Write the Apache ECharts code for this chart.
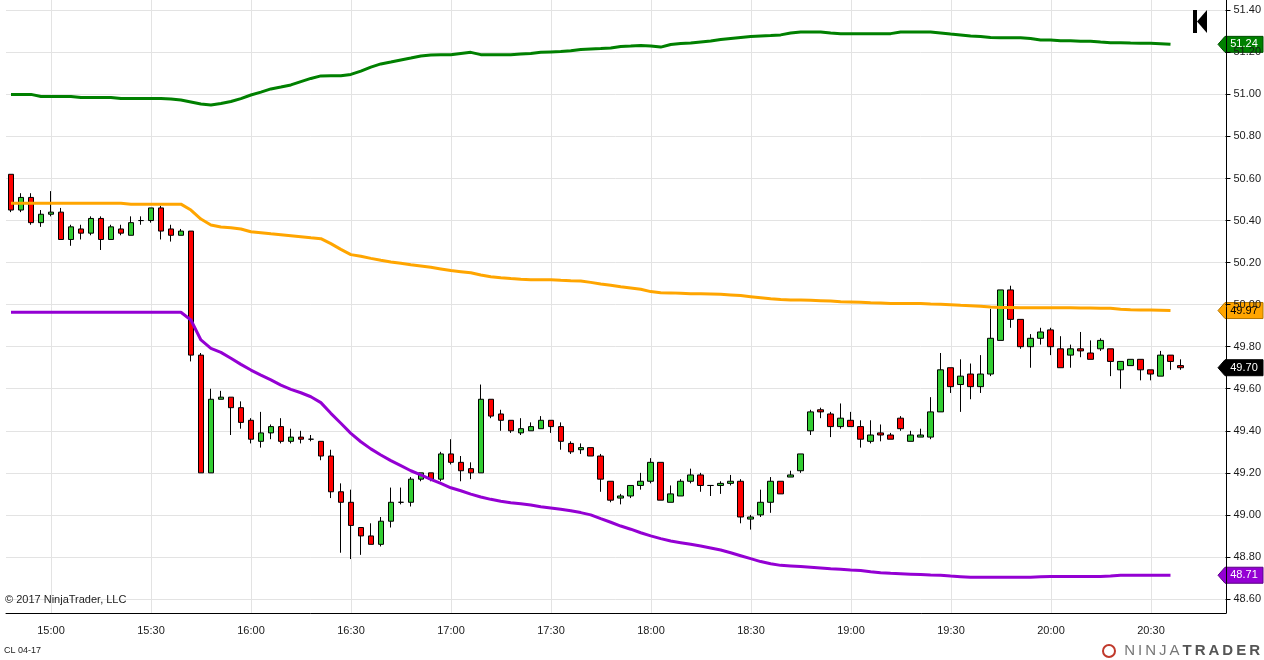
<!DOCTYPE html>
<html>
<head>
<meta charset="utf-8">
<title>CL 04-17</title>
<script src="https://cdn.jsdelivr.net/npm/echarts@6/dist/echarts.min.js"></script>
<style>
  html, body { margin: 0; padding: 0; background: #fff; }
  #chart { width: 1264px; height: 660px; }
</style>
</head>
<body>
<div id="chart"></div>
<script>
// 3 minute bars, the last four slots are the empty right margin
var times = [
  '14:48','14:51','14:54','14:57',
  '15:00','15:03','15:06','15:09','15:12','15:15','15:18','15:21','15:24','15:27',
  '15:30','15:33','15:36','15:39','15:42','15:45','15:48','15:51','15:54','15:57',
  '16:00','16:03','16:06','16:09','16:12','16:15','16:18','16:21','16:24','16:27',
  '16:30','16:33','16:36','16:39','16:42','16:45','16:48','16:51','16:54','16:57',
  '17:00','17:03','17:06','17:09','17:12','17:15','17:18','17:21','17:24','17:27',
  '17:30','17:33','17:36','17:39','17:42','17:45','17:48','17:51','17:54','17:57',
  '18:00','18:03','18:06','18:09','18:12','18:15','18:18','18:21','18:24','18:27',
  '18:30','18:33','18:36','18:39','18:42','18:45','18:48','18:51','18:54','18:57',
  '19:00','19:03','19:06','19:09','19:12','19:15','19:18','19:21','19:24','19:27',
  '19:30','19:33','19:36','19:39','19:42','19:45','19:48','19:51','19:54','19:57',
  '20:00','20:03','20:06','20:09','20:12','20:15','20:18','20:21','20:24','20:27',
  '20:30','20:33','20:36','20:39','20:42','20:45','20:48','20:51'
];
var tickLabels = ['15:00','15:30','16:00','16:30','17:00','17:30','18:00','18:30','19:00','19:30','20:00','20:30'];

// [open, close, low, high]
var candles = [
  [50.62,50.45,50.44,50.62],[50.45,50.51,50.44,50.53],[50.51,50.39,50.38,50.53],[50.39,50.43,50.37,50.45],[50.43,50.44,50.42,50.54],
  [50.44,50.31,50.31,50.46],[50.31,50.37,50.28,50.38],[50.36,50.34,50.31,50.38],[50.34,50.41,50.33,50.42],[50.41,50.31,50.26,50.42],
  [50.31,50.37,50.31,50.38],[50.36,50.34,50.33,50.38],[50.33,50.39,50.33,50.42],[50.40,50.40,50.38,50.42],[50.40,50.46,50.39,50.46],
  [50.46,50.35,50.31,50.47],[50.36,50.33,50.30,50.38],[50.33,50.35,50.33,50.36],[50.35,49.76,49.73,50.35],[49.76,49.20,49.20,49.77],
  [49.20,49.55,49.20,49.60],[49.55,49.56,49.55,49.59],[49.56,49.51,49.38,49.56],[49.51,49.44,49.41,49.54],[49.45,49.36,49.34,49.46],
  [49.35,49.39,49.32,49.49],[49.39,49.42,49.36,49.43],[49.42,49.35,49.34,49.46],[49.35,49.37,49.34,49.41],[49.37,49.36,49.34,49.40],
  [49.36,49.36,49.35,49.38],[49.35,49.28,49.26,49.35],[49.28,49.11,49.08,49.31],[49.11,49.06,48.82,49.15],[49.06,48.95,48.79,49.12],
  [48.94,48.90,48.81,48.94],[48.90,48.86,48.86,48.96],[48.86,48.97,48.85,48.99],[48.97,49.06,48.94,49.13],[49.06,49.06,49.05,49.13],
  [49.06,49.17,49.04,49.18],[49.17,49.20,49.16,49.20],[49.20,49.17,49.16,49.20],[49.17,49.29,49.16,49.30],[49.29,49.25,49.24,49.36],
  [49.25,49.21,49.16,49.28],[49.22,49.20,49.17,49.25],[49.20,49.55,49.20,49.62],[49.55,49.47,49.46,49.55],[49.48,49.45,49.40,49.50],
  [49.45,49.40,49.39,49.45],[49.39,49.41,49.38,49.46],[49.40,49.42,49.40,49.44],[49.41,49.45,49.41,49.47],[49.45,49.42,49.39,49.45],
  [49.42,49.35,49.31,49.44],[49.34,49.30,49.29,49.35],[49.31,49.32,49.29,49.34],[49.32,49.28,49.28,49.32],[49.28,49.17,49.11,49.29],
  [49.16,49.07,49.06,49.16],[49.08,49.09,49.05,49.10],[49.09,49.14,49.08,49.14],[49.14,49.16,49.12,49.20],[49.16,49.25,49.15,49.27],
  [49.25,49.07,49.07,49.25],[49.06,49.10,49.06,49.14],[49.09,49.16,49.09,49.17],[49.16,49.19,49.15,49.22],[49.19,49.14,49.11,49.20],
  [49.14,49.14,49.09,49.14],[49.14,49.15,49.10,49.16],[49.15,49.16,49.14,49.19],[49.16,48.99,48.96,49.17],[48.98,48.99,48.93,49.00],
  [49.00,49.06,48.99,49.12],[49.06,49.16,49.01,49.18],[49.16,49.10,49.10,49.16],[49.18,49.19,49.18,49.21],[49.21,49.29,49.20,49.29],
  [49.40,49.49,49.38,49.50],[49.50,49.49,49.46,49.51],[49.48,49.42,49.37,49.49],[49.42,49.46,49.41,49.53],[49.45,49.42,49.42,49.49],
  [49.42,49.36,49.32,49.45],[49.35,49.38,49.34,49.45],[49.39,49.38,49.35,49.43],[49.38,49.36,49.36,49.39],[49.46,49.41,49.40,49.47],
  [49.35,49.38,49.35,49.40],[49.37,49.38,49.37,49.41],[49.37,49.49,49.36,49.56],[49.49,49.69,49.49,49.77],[49.70,49.61,49.58,49.70],
  [49.62,49.66,49.49,49.74],[49.67,49.61,49.55,49.72],[49.61,49.67,49.58,49.76],[49.67,49.84,49.66,49.98],[49.83,50.07,49.83,50.07],
  [50.07,49.93,49.89,50.09],[49.93,49.80,49.79,49.93],[49.80,49.84,49.70,49.86],[49.84,49.87,49.81,49.89],[49.88,49.80,49.76,49.89],
  [49.79,49.70,49.70,49.85],[49.76,49.79,49.70,49.81],[49.79,49.78,49.75,49.87],[49.77,49.74,49.74,49.83],[49.79,49.83,49.78,49.84],
  [49.79,49.73,49.66,49.79],[49.69,49.73,49.60,49.73],[49.71,49.74,49.71,49.74],[49.74,49.69,49.64,49.74],[49.69,49.67,49.64,49.69],
  [49.66,49.76,49.66,49.78],[49.76,49.73,49.69,49.76],[49.71,49.70,49.69,49.74]
];

var upperBand = [
  51.00,51.00,51.00,50.99,50.99,50.99,50.99,50.985,50.985,50.985,
  50.985,50.98,50.98,50.98,50.98,50.98,50.978,50.973,50.964,50.954,
  50.95,50.957,50.966,50.98,50.997,51.011,51.026,51.035,51.045,51.061,
  51.076,51.088,51.089,51.089,51.095,51.111,51.13,51.145,51.154,51.164,
  51.173,51.183,51.187,51.189,51.189,51.195,51.2,51.189,51.189,51.189,
  51.189,51.192,51.195,51.2,51.202,51.204,51.208,51.213,51.216,51.218,
  51.221,51.228,51.23,51.233,51.23,51.225,51.237,51.242,51.244,51.249,
  51.254,51.261,51.266,51.271,51.275,51.278,51.28,51.283,51.292,51.297,
  51.297,51.297,51.292,51.289,51.289,51.289,51.289,51.289,51.289,51.297,
  51.297,51.297,51.297,51.292,51.287,51.283,51.278,51.275,51.271,51.27,
  51.27,51.27,51.266,51.259,51.259,51.255,51.255,51.253,51.253,51.249,
  51.246,51.246,51.244,51.243,51.243,51.241,51.238
];
var midBand = [
  50.482,50.482,50.482,50.482,50.482,50.482,50.482,50.482,50.482,50.482,
  50.482,50.482,50.478,50.478,50.478,50.478,50.478,50.478,50.45,50.407,
  50.379,50.369,50.366,50.36,50.347,50.342,50.337,50.333,50.328,50.323,
  50.318,50.314,50.29,50.263,50.238,50.23,50.22,50.211,50.203,50.197,
  50.19,50.184,50.178,50.17,50.162,50.157,50.152,50.141,50.133,50.128,
  50.124,50.121,50.119,50.119,50.119,50.116,50.114,50.113,50.106,50.098,
  50.092,50.085,50.079,50.073,50.062,50.057,50.056,50.054,50.052,50.052,
  50.051,50.049,50.046,50.043,50.038,50.033,50.028,50.024,50.022,50.022,
  50.021,50.019,50.017,50.014,50.013,50.011,50.009,50.008,50.006,50.006,
  50.005,50.005,50.003,50.002,50.0,49.997,49.995,49.992,49.989,49.987,
  49.986,49.985,49.985,49.985,49.985,49.985,49.985,49.984,49.984,49.983,
  49.983,49.978,49.976,49.975,49.974,49.973,49.972
];
var lowerBand = [
  49.964,49.964,49.964,49.964,49.964,49.964,49.964,49.964,49.964,49.964,
  49.964,49.964,49.964,49.964,49.964,49.964,49.964,49.964,49.927,49.832,
  49.792,49.773,49.745,49.716,49.689,49.665,49.642,49.617,49.597,49.581,
  49.562,49.534,49.483,49.436,49.388,49.348,49.314,49.285,49.258,49.234,
  49.21,49.19,49.169,49.15,49.129,49.115,49.099,49.085,49.074,49.065,
  49.058,49.053,49.047,49.039,49.033,49.027,49.02,49.011,49.0,48.982,
  48.965,48.947,48.932,48.915,48.9,48.887,48.876,48.868,48.86,48.852,
  48.843,48.833,48.82,48.806,48.792,48.778,48.768,48.76,48.757,48.754,
  48.751,48.748,48.744,48.741,48.738,48.736,48.73,48.725,48.722,48.72,
  48.718,48.716,48.714,48.713,48.709,48.706,48.703,48.703,48.703,48.703,
  48.703,48.703,48.703,48.706,48.707,48.707,48.707,48.707,48.707,48.707,
  48.709,48.713,48.713,48.713,48.713,48.713,48.713
];

var FONT = '"Liberation Sans", Arial, sans-serif';
var gridColor = '#e3e3e3';

function isTick(index, value) {
  return tickLabels.indexOf(value) >= 0;
}

var chart = echarts.init(document.getElementById('chart'));

var option = {
  animation: false,
  backgroundColor: '#fff',
  grid: [
    { left: 6, right: 38, top: 10.3, bottom: 61 },   // prices 48.60 .. 51.40
    { left: 6, right: 38, top: 0, bottom: 47 }       // frame, time axis
  ],
  xAxis: [
    { type: 'category', gridIndex: 0, data: times, boundaryGap: true, show: false },
    {
      type: 'category', gridIndex: 1, data: times, boundaryGap: true,
      axisLine: { onZero: false, lineStyle: { color: '#000', width: 1 } },
      axisTick: { alignWithLabel: true, interval: isTick, length: 5, lineStyle: { color: '#000' } },
      axisLabel: { interval: isTick, color: '#1a1a1a', fontSize: 11, fontFamily: FONT, margin: 12 },
      splitLine: { show: true, alignWithLabel: true, interval: isTick, lineStyle: { color: gridColor, width: 1 } }
    }
  ],
  yAxis: [
    {
      type: 'value', gridIndex: 0, position: 'right',
      min: 48.6, max: 51.4, interval: 0.2,
      axisLine: { show: false },
      axisTick: { show: true, length: 5, lineStyle: { color: '#000' } },
      axisLabel: {
        color: '#1a1a1a', fontSize: 11, fontFamily: FONT, margin: 8,
        formatter: function (v) { return v.toFixed(2); }
      },
      splitLine: { show: true, lineStyle: { color: gridColor, width: 1 } }
    },
    {
      type: 'value', gridIndex: 1, position: 'right', min: 0, max: 1,
      axisLine: { show: true, onZero: false, lineStyle: { color: '#000', width: 1 } },
      axisTick: { show: false }, axisLabel: { show: false }, splitLine: { show: false }
    }
  ],
  series: [
    {
      type: 'candlestick', xAxisIndex: 0, yAxisIndex: 0,
      data: candles, barWidth: 6,
      itemStyle: {
        color: '#32cd32', color0: '#ff0000',
        borderColor: '#000', borderColor0: '#000', borderColorDoji: '#000',
        borderWidth: 1
      },
      z: 2
    },
    {
      type: 'line', xAxisIndex: 0, yAxisIndex: 0, data: upperBand,
      symbol: 'none', lineStyle: { color: '#008000', width: 3 }, z: 3, silent: true
    },
    {
      type: 'line', xAxisIndex: 0, yAxisIndex: 0, data: midBand,
      symbol: 'none', lineStyle: { color: '#ffa500', width: 3 }, z: 3, silent: true
    },
    {
      type: 'line', xAxisIndex: 0, yAxisIndex: 0, data: lowerBand,
      symbol: 'none', lineStyle: { color: '#9400d3', width: 3 }, z: 3, silent: true
    }
  ]
};
chart.setOption(option);

// price markers on the right axis, placed through the y scale
var markers = [
  { value: upperBand[upperBand.length - 1], fill: '#008000', stroke: '#004d00', text: '#fff' },
  { value: midBand[midBand.length - 1], fill: '#ffa500', stroke: '#b37400', text: '#000' },
  { value: candles[candles.length - 1][1], fill: '#000', stroke: '#000', text: '#fff' },
  { value: lowerBand[lowerBand.length - 1], fill: '#9400d3', stroke: '#5c0085', text: '#fff' }
];

var graphics = markers.map(function (m) {
  var y = chart.convertToPixel({ yAxisIndex: 0 }, m.value);
  return {
    type: 'group', z: 100,
    children: [
      {
        type: 'polygon',
        shape: { points: [[1218, y], [1225, y - 8], [1263, y - 8], [1263, y + 8], [1225, y + 8]] },
        style: { fill: m.fill, stroke: m.stroke, lineWidth: 1 }
      },
      {
        type: 'text', x: 1244, y: y,
        style: {
          text: m.value.toFixed(2), fill: m.text, font: '11px ' + FONT,
          align: 'center', verticalAlign: 'middle'
        }
      }
    ]
  };
});

// jump-to-end button
graphics.push({ type: 'rect', z: 100, shape: { x: 1193, y: 10, width: 4, height: 23 }, style: { fill: '#000' } });
graphics.push({ type: 'polygon', z: 100, shape: { points: [[1197, 21.5], [1207, 10], [1207, 33]] }, style: { fill: '#000' } });

graphics.push({
  type: 'text', z: 100, x: 5, y: 600,
  style: { text: '\u00a9 2017 NinjaTrader, LLC', fill: '#222', font: '11px ' + FONT, verticalAlign: 'middle' }
});
graphics.push({
  type: 'text', z: 100, x: 4, y: 651,
  style: { text: 'CL 04-17', fill: '#222', font: '9px ' + FONT, verticalAlign: 'middle' }
});

// logo
graphics.push({
  type: 'circle', z: 100, shape: { cx: 1109, cy: 651, r: 6 },
  style: { fill: 'none', stroke: '#c0392b', lineWidth: 2 }
});
graphics.push({
  type: 'text', z: 100, x: 1260, y: 651,
  style: {
    text: '{a|N\u2009I\u2009N\u2009J\u2009A\u2009}{b|T\u2009R\u2009A\u2009D\u2009E\u2009R}',
    align: 'right', verticalAlign: 'middle',
    rich: {
      a: { fill: '#777', font: '15px ' + FONT },
      b: { fill: '#555', font: 'bold 15px ' + FONT }
    }
  }
});

chart.setOption({ graphic: graphics });
</script>
</body>
</html>
